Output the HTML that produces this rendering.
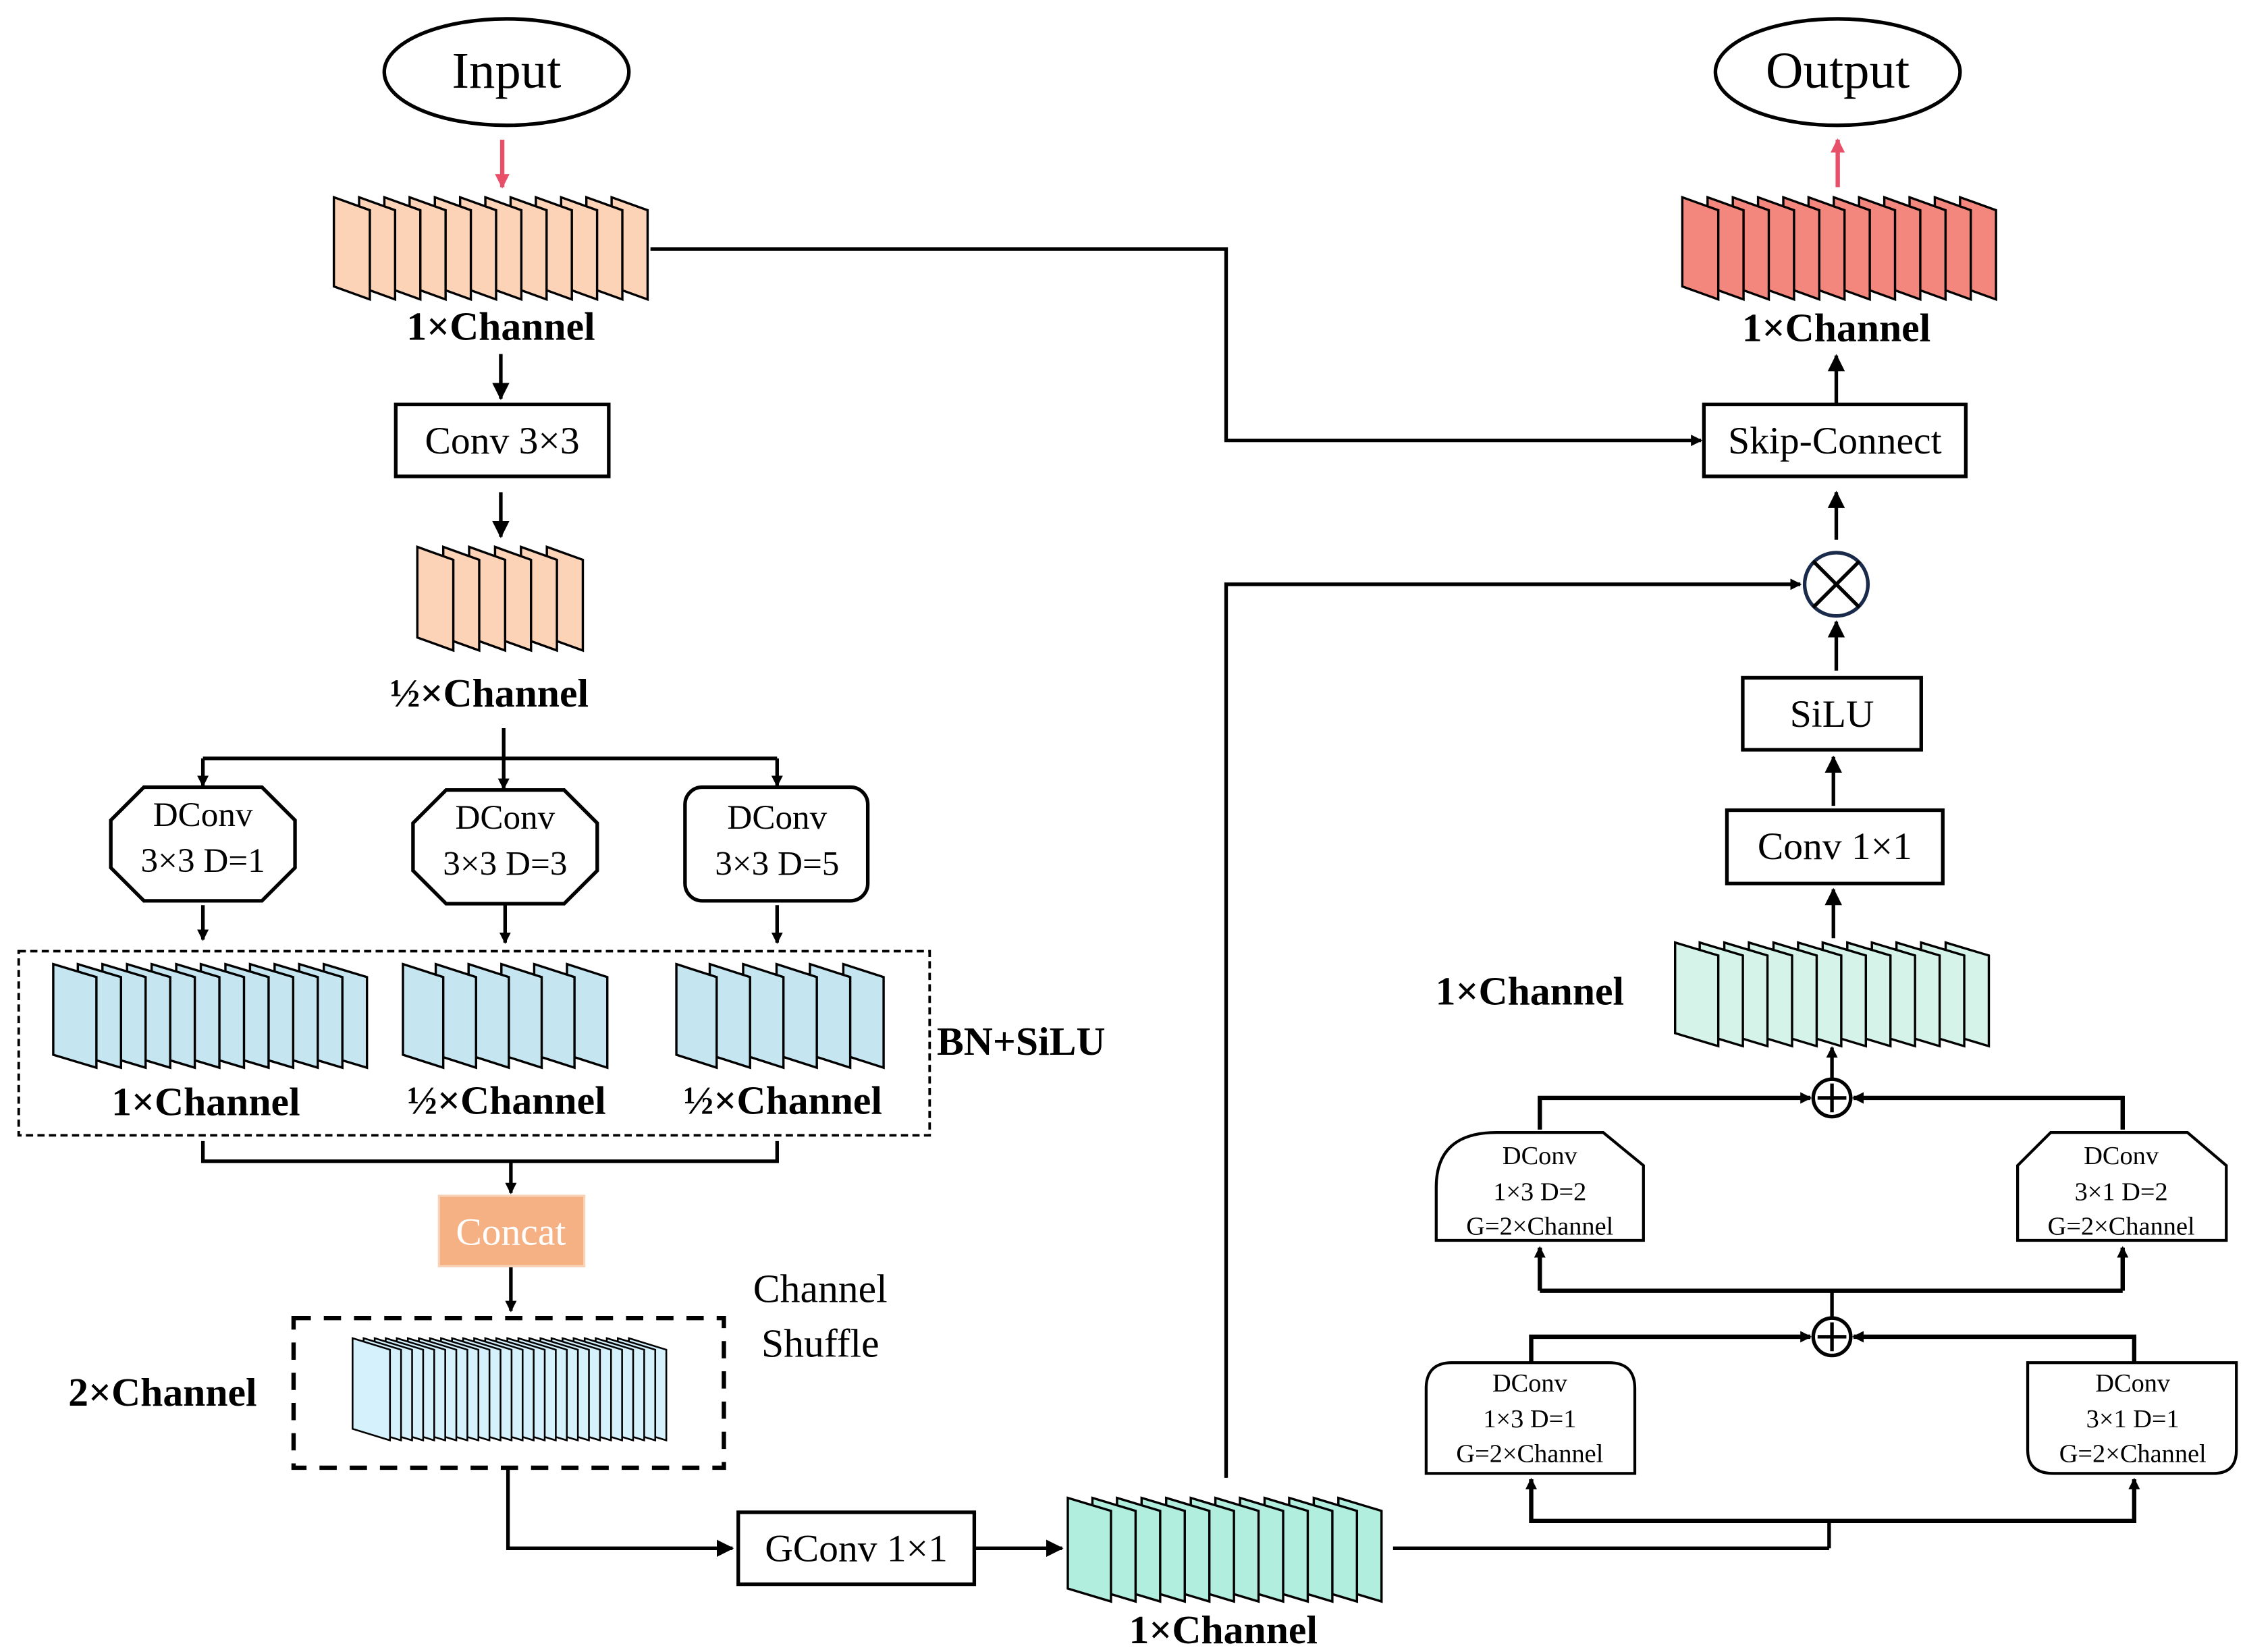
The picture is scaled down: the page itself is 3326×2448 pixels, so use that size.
<!DOCTYPE html>
<html><head><meta charset="utf-8"><style>
html,body{margin:0;padding:0;background:#fff;}
svg{display:block;}
text{font-family:"Liberation Serif",serif;fill:#000;}
.b{font-weight:bold;}
</style></head><body>
<svg id="s" xmlns="http://www.w3.org/2000/svg" width="3326" height="2448" viewBox="0 0 1560 1148">
<defs>
<marker id="a" markerWidth="8" markerHeight="8" refX="7" refY="4" orient="auto" markerUnits="userSpaceOnUse"><path d="M0,0 L8,4 L0,8 Z" fill="#000"/></marker>
<marker id="am" markerWidth="12" markerHeight="12" refX="11" refY="6" orient="auto" markerUnits="userSpaceOnUse"><path d="M0,0 L12,6 L0,12 Z" fill="#000"/></marker>
<marker id="ar" markerWidth="10" markerHeight="10" refX="9" refY="5" orient="auto" markerUnits="userSpaceOnUse"><path d="M0,0 L10,5 L0,10 Z" fill="#E8506A"/></marker>
</defs>
<rect width="1560" height="1148" fill="#fff"/>
<g id="stacks"></g>
<g fill="none" stroke="#000" stroke-width="2.5">
<!-- input/output -->
<ellipse cx="352" cy="50" rx="85" ry="37"/>
<ellipse cx="1277" cy="50" rx="85" ry="37"/>
<line x1="349" y1="97" x2="349" y2="130" stroke="#E8506A" stroke-width="3" marker-end="url(#ar)"/>
<line x1="1277" y1="130" x2="1277" y2="97" stroke="#E8506A" stroke-width="3" marker-end="url(#ar)"/>
<!-- left column -->
<line x1="348" y1="246" x2="348" y2="277" marker-end="url(#am)"/>
<rect x="275" y="281" width="148" height="50"/>
<line x1="348" y1="342" x2="348" y2="373" marker-end="url(#am)"/>
<line x1="350" y1="506" x2="350" y2="527"/>
<line x1="141" y1="527" x2="540" y2="527"/>
<line x1="141" y1="527" x2="141" y2="546" marker-end="url(#a)"/>
<line x1="350" y1="527" x2="350" y2="548" marker-end="url(#a)"/>
<line x1="540" y1="527" x2="540" y2="546" marker-end="url(#a)"/>
<path d="M100,547 L182,547 L205,570 L205,603 L182,626 L100,626 L77,603 L77,570 Z"/>
<path d="M310,549 L392,549 L415,572 L415,605 L392,628 L310,628 L287,605 L287,572 Z"/>
<rect x="476" y="547" width="127" height="79" rx="12"/>
<line x1="141" y1="629" x2="141" y2="653" marker-end="url(#a)"/>
<line x1="351" y1="629" x2="351" y2="655" marker-end="url(#a)"/>
<line x1="540" y1="629" x2="540" y2="655" marker-end="url(#a)"/>
<rect x="13" y="661" width="633" height="128" stroke-width="1.8" stroke-dasharray="5,3"/>
<polyline points="141,793 141,807 540,807 540,793"/>
<line x1="355" y1="807" x2="355" y2="829" marker-end="url(#a)"/>
<line x1="355" y1="880" x2="355" y2="911" marker-end="url(#a)"/>
<rect x="204" y="916" width="299" height="104" stroke-width="3" stroke-dasharray="12,9"/>
<polyline points="353,1020 353,1076 509,1076" marker-end="url(#am)"/>
<rect x="513" y="1051" width="164" height="50"/>
<line x1="677" y1="1076" x2="738" y2="1076" marker-end="url(#am)"/>
<!-- skip -->
<polyline points="452,173 852,173 852,306 1182,306" marker-end="url(#a)"/>
<polyline points="852,1027 852,406 1251,406" marker-end="url(#a)"/>
<!-- right column -->
<rect x="1184" y="281" width="182" height="50"/>
<line x1="1276" y1="280" x2="1276" y2="247" marker-end="url(#am)"/>
<line x1="1276" y1="375" x2="1276" y2="342" marker-end="url(#am)"/>
<circle cx="1276" cy="406" r="22" stroke="#1a2a4a" stroke-width="2.5"/>
<line x1="1276" y1="466" x2="1276" y2="432" marker-end="url(#am)"/>
<rect x="1211" y="471" width="124" height="50"/>
<line x1="1274" y1="560" x2="1274" y2="526" marker-end="url(#am)"/>
<rect x="1200" y="563" width="150" height="51"/>
<line x1="1274" y1="652" x2="1274" y2="618" marker-end="url(#am)"/>
<line x1="968" y1="1076" x2="1271" y2="1076"/>
<line x1="1271" y1="1076" x2="1271" y2="1057"/>
<polyline points="1064,1028 1064,1057 1483,1057 1483,1028" stroke-width="3"/>
<line x1="1064" y1="1050" x2="1064" y2="1028" marker-end="url(#a)"/>
<line x1="1483" y1="1050" x2="1483" y2="1028" marker-end="url(#a)"/>
<path d="M991,1024 L991,965 Q991,947 1009,947 L1118,947 Q1136,947 1136,965 L1136,1024 Z" stroke-width="2"/>
<path d="M1409,947 L1554,947 L1554,1008 Q1554,1024 1538,1024 L1427,1024 Q1409,1024 1409,1008 Z" stroke-width="2"/>
<polyline points="1064,947 1064,929 1258,929" stroke-width="3" marker-end="url(#a)"/>
<polyline points="1483,947 1483,929 1288,929" stroke-width="3" marker-end="url(#a)"/>
<circle cx="1273" cy="929" r="13"/>
<line x1="1273" y1="916" x2="1273" y2="897"/>
<polyline points="1070,897 1475,897" stroke-width="3"/>
<line x1="1070" y1="897" x2="1070" y2="867" stroke-width="3" marker-end="url(#a)"/>
<line x1="1475" y1="897" x2="1475" y2="867" stroke-width="3" marker-end="url(#a)"/>
<path d="M998,862 L998,825 Q998,787 1040,787 L1114,787 L1142,810 L1142,862 Z" stroke-width="2"/>
<path d="M1402,862 L1402,810 L1425,787 L1520,787 L1547,810 L1547,862 Z" stroke-width="2"/>
<polyline points="1070,785 1070,763 1258,763" stroke-width="3" marker-end="url(#a)"/>
<polyline points="1475,785 1475,763 1288,763" stroke-width="3" marker-end="url(#a)"/>
<circle cx="1273" cy="763" r="13"/>
<line x1="1273" y1="750" x2="1273" y2="728" marker-end="url(#a)"/>
</g>
<g stroke="#000" stroke-width="2.5">
<line x1="1260" y1="390" x2="1292" y2="422"/><line x1="1292" y1="390" x2="1260" y2="422"/>
<line x1="1273" y1="919" x2="1273" y2="939"/><line x1="1263" y1="929" x2="1283" y2="929"/>
<line x1="1273" y1="753" x2="1273" y2="773"/><line x1="1263" y1="763" x2="1283" y2="763"/>
</g>
<rect x="305" y="831" width="101" height="49" fill="#F5B183" stroke="#F8D3B8" stroke-width="1.5"/>
<g text-anchor="middle">
<text x="352" y="61" font-size="36">Input</text>
<text x="1277" y="61" font-size="36">Output</text>
<text class="b" x="348" y="236" font-size="28">1×Channel</text>
<text class="b" x="1276" y="237" font-size="28">1×Channel</text>
<text x="349" y="315" font-size="27">Conv 3×3</text>
<text class="b" x="340" y="491" font-size="28">½×Channel</text>
<text x="141" y="574" font-size="24">DConv</text><text x="141" y="606" font-size="24">3×3 D=1</text>
<text x="351" y="576" font-size="24">DConv</text><text x="351" y="608" font-size="24">3×3 D=3</text>
<text x="540" y="576" font-size="24">DConv</text><text x="540" y="608" font-size="24">3×3 D=5</text>
<text class="b" x="143" y="775" font-size="28">1×Channel</text>
<text class="b" x="352" y="774" font-size="28">½×Channel</text>
<text class="b" x="544" y="774" font-size="28">½×Channel</text>
<text x="355" y="865" font-size="27" style="fill:#fff">Concat</text>
<text x="570" y="905" font-size="28">Channel</text>
<text x="570" y="943" font-size="28">Shuffle</text>
<text class="b" x="113" y="977" font-size="28">2×Channel</text>
<text x="595" y="1085" font-size="27">GConv 1×1</text>
<text class="b" x="850" y="1142" font-size="28">1×Channel</text>
<text x="1275" y="315" font-size="27">Skip-Connect</text>
<text x="1273" y="505" font-size="27">SiLU</text>
<text x="1275" y="597" font-size="27">Conv 1×1</text>
<text class="b" x="1063" y="698" font-size="28">1×Channel</text>
<text x="1070" y="809" font-size="18">DConv</text><text x="1070" y="834" font-size="18">1×3  D=2</text><text x="1070" y="858" font-size="18">G=2×Channel</text>
<text x="1474" y="809" font-size="18">DConv</text><text x="1474" y="834" font-size="18">3×1  D=2</text><text x="1474" y="858" font-size="18">G=2×Channel</text>
<text x="1063" y="967" font-size="18">DConv</text><text x="1063" y="992" font-size="18">1×3  D=1</text><text x="1063" y="1016" font-size="18">G=2×Channel</text>
<text x="1482" y="967" font-size="18">DConv</text><text x="1482" y="992" font-size="18">3×1  D=1</text><text x="1482" y="1016" font-size="18">G=2×Channel</text>
</g>
<text class="b" x="651" y="733" font-size="28">BN+SiLU</text>
</svg>
<script>
(function(){
var g=document.getElementById('stacks'),ns='http://www.w3.org/2000/svg';
function st(x0,x1,y,h,n,w,d,fill,sw){
 var s=(x1-x0-w)/(n-1);
 for(var i=n-1;i>=0;i--){
  var x=x0+i*s;
  var p=document.createElementNS(ns,'polygon');
  p.setAttribute('points',x+','+y+' '+(x+w)+','+(y+d)+' '+(x+w)+','+(y+h)+' '+x+','+(y+h-d));
  p.setAttribute('fill',fill);p.setAttribute('stroke','#000');p.setAttribute('stroke-width',sw||1.6);
  g.appendChild(p);
 }
}
st(232,450,137,71,12,25,9,'#FDD3B8');
st(290,405,380,72,6,25,9,'#FDD3B8');
st(37,255,670,72,12,30,9,'#C5E6F0');
st(280,422,670,72,6,28,9,'#C5E6F0');
st(470,614,670,72,6,28,9,'#C5E6F0');
st(245,463,930,71,26,26,8,'#D5F1FC',1.2);
st(742,960,1041,72,12,30,9,'#B2EEDD');
st(1164,1382,655,72,12,30,9,'#D6F3EA');
st(1169,1387,137,71,12,25,9,'#F4877D');
})();
</script>
</body></html>
